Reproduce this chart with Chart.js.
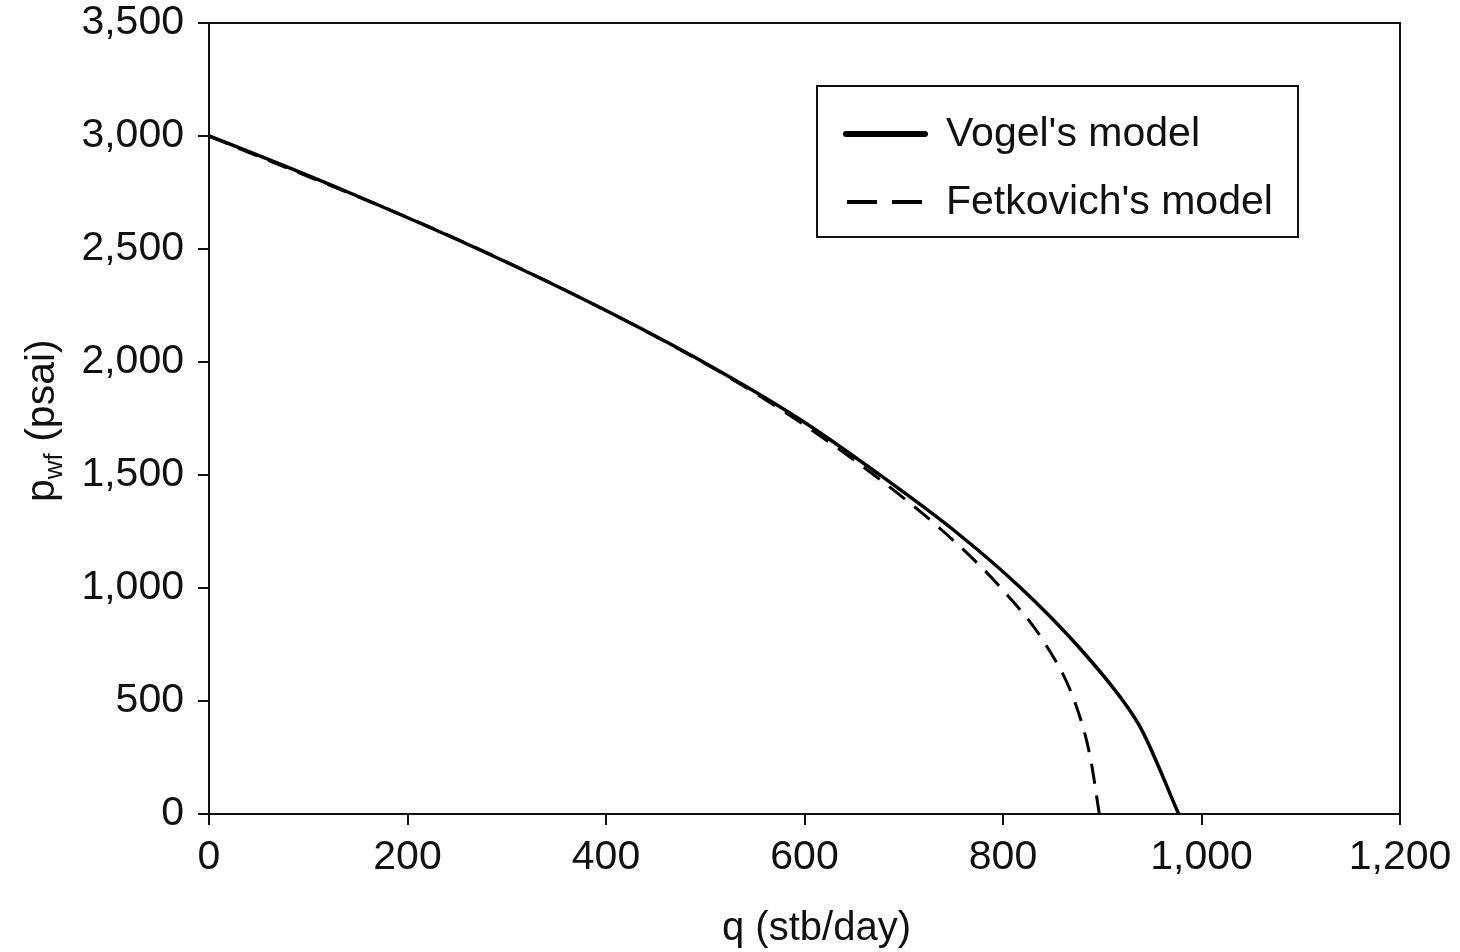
<!DOCTYPE html>
<html>
<head>
<meta charset="utf-8">
<script src="https://cdn.jsdelivr.net/npm/chart.js@4.4.1/dist/chart.umd.min.js"></script>
<style>
  html, body { margin: 0; padding: 0; background: #fff; }
  #wrap { width: 1460px; height: 952px; position: relative; }
</style>
</head>
<body>
<div id="wrap"><canvas id="chart-ipr"></canvas></div>
<script>
// values
const vogelP = [3000, 2900, 2750, 2500, 2250, 2000, 1750, 1500, 1250, 1000, 750, 500, 370, 0];
const vogelQ = [0, 58, 141, 271, 390, 498, 594, 676, 752, 818, 874, 921, 940, 977];
const fetkP = [3000, 2500, 2000, 1750, 1500, 1250, 1000, 750, 500, 250, 0];
const fetkQ = [0, 272, 497, 590, 670, 740, 798, 843, 872, 888, 897];
const xTicks = [0, 200, 400, 600, 800, 1000, 1200];
const yTicks = [0, 500, 1000, 1500, 2000, 2500, 3000, 3500];

const FONT = "'Liberation Sans', Arial, sans-serif";
const INK = "#111";

const toPoints = (qs, ps) => qs.map((q, i) => ({ x: q, y: ps[i] }));

// frame around the plot area
const frame = {
    id: "frame",
    afterDatasetsDraw(chart) {
        const { ctx, chartArea: a } = chart;
        ctx.save();
        ctx.strokeStyle = INK;
        ctx.lineWidth = 2;
        ctx.strokeRect(a.left, a.top, a.right - a.left, a.bottom - a.top);
        ctx.restore();
    },
};

// y title with subscript, and x title
const titles = {
    id: "titles",
    afterDraw(chart) {
        const { ctx } = chart;
        ctx.save();
        ctx.fillStyle = INK;
        ctx.textBaseline = "alphabetic";
        ctx.textAlign = "left";
        ctx.font = `40px ${FONT}`;
        ctx.fillText("q (stb/day)", 722, 940);

        ctx.translate(54, 502);
        ctx.rotate(-Math.PI / 2);
        let x = 0;
        ctx.font = `41px ${FONT}`;
        ctx.fillText("p", x, 0);
        x += ctx.measureText("p").width;
        ctx.font = `26px ${FONT}`;
        ctx.fillText("wf", x, 8);
        x += ctx.measureText("wf").width;
        ctx.font = `41px ${FONT}`;
        ctx.fillText(" (psai)", x, 0);
        ctx.restore();
    },
};

// boxed legend inside the plot
const boxLegend = {
    id: "boxLegend",
    afterDraw(chart) {
        const { ctx } = chart;
        const left = 817, top = 86, w = 481, h = 151;
        ctx.save();
        ctx.fillStyle = "#fff";
        ctx.fillRect(left, top, w, h);
        ctx.strokeStyle = INK;
        ctx.lineWidth = 2;
        ctx.strokeRect(left, top, w, h);
        const rows = [134, 202];
        chart.data.datasets.forEach((ds, i) => {
            const y = rows[i];
            ctx.beginPath();
            ctx.strokeStyle = ds.borderColor;
            ctx.lineWidth = i === 0 ? 6 : 4;
            ctx.lineCap = i === 0 ? "round" : "butt";
            ctx.setLineDash(i === 0 ? [] : [30, 15]);
            ctx.moveTo(i === 0 ? 846 : 847, y);
            ctx.lineTo(i === 0 ? 925 : 922, y);
            ctx.stroke();
            ctx.setLineDash([]);
            ctx.fillStyle = INK;
            ctx.font = `41px ${FONT}`;
            ctx.textBaseline = "middle";
            ctx.fillText(ds.label, 946, y + 1);
        });
        ctx.restore();
    },
};

const ctx = document.getElementById("chart-ipr").getContext("2d");
new Chart(ctx, {
    type: "line",
    data: {
        datasets: [
            {
                label: "Vogel's model",
                data: toPoints(vogelQ, vogelP),
                borderColor: "#000",
                borderWidth: 3.5,
                pointRadius: 0,
                cubicInterpolationMode: "monotone",
                fill: false,
            },
            {
                label: "Fetkovich's model",
                data: toPoints(fetkQ, fetkP),
                borderColor: "#000",
                borderWidth: 3,
                borderDash: [20, 12],
                pointRadius: 0,
                cubicInterpolationMode: "monotone",
                fill: false,
            },
        ],
    },
    options: {
        responsive: true,
        maintainAspectRatio: false,
        animation: false,
        layout: { padding: { top: 23, right: 60, left: 0, bottom: 0 } },
        scales: {
            x: {
                type: "linear",
                min: 0,
                max: 1200,
                afterBuildTicks: (s) => { s.ticks = xTicks.map((v) => ({ value: v })); },
                afterFit: (s) => { s.height = 138; },
                border: { display: true, color: INK, width: 2 },
                grid: { drawOnChartArea: false, drawTicks: true, tickLength: 11, color: INK, lineWidth: 2 },
                ticks: {
                    color: INK,
                    padding: 8,
                    font: { family: FONT, size: 41 },
                    maxRotation: 0,
                    callback: (v) => v.toLocaleString("en-US"),
                },
            },
            y: {
                min: 0,
                max: 3500,
                afterBuildTicks: (s) => { s.ticks = yTicks.map((v) => ({ value: v })); },
                afterFit: (s) => {
                    s.width = 209;
                    s.paddingTop = 0;
                    s.paddingBottom = 0;
                },
                border: { display: true, color: INK, width: 2 },
                grid: { drawOnChartArea: false, drawTicks: true, tickLength: 11, color: INK, lineWidth: 2 },
                ticks: {
                    color: INK,
                    padding: 14,
                    font: { family: FONT, size: 41 },
                    callback: (v) => v.toLocaleString("en-US"),
                },
            },
        },
        plugins: {
            legend: { display: false },
            tooltip: { enabled: false },
        },
    },
    plugins: [frame, titles, boxLegend],
});
</script>
</body>
</html>
